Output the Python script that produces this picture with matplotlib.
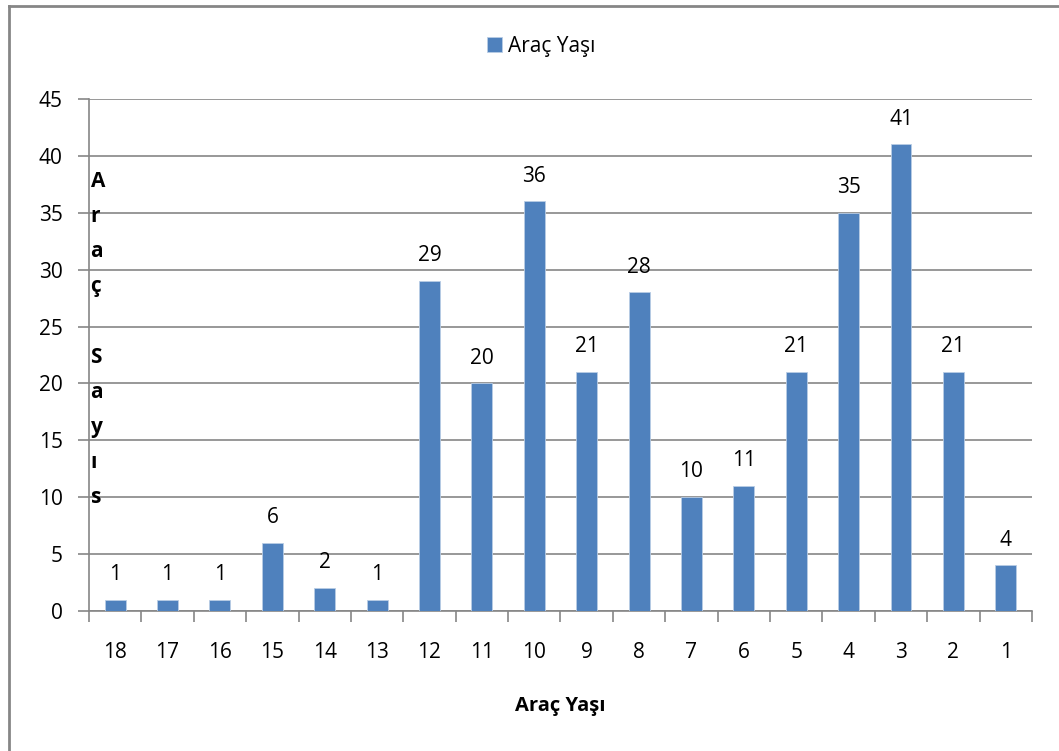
import matplotlib.pyplot as plt
from matplotlib.lines import Line2D
import numpy as np

plt.rcParams['font.family'] = ['Open Sans', 'DejaVu Sans']

ages = ['18', '17', '16', '15', '14', '13', '12', '11', '10', '9',
        '8', '7', '6', '5', '4', '3', '2', '1']
counts = [1, 1, 1, 6, 2, 1, 29, 20, 36, 21, 28, 10, 11, 21, 35, 41, 21, 4]
yticks = [0, 5, 10, 15, 20, 25, 30, 35, 40, 45]

bar_color = '#4F81BD'
axis_gray = '#868686'

fig = plt.figure(figsize=(10.59, 7.51), dpi=100)
ax = fig.add_axes([0.084, 0.1864, 0.8905, 0.6818])

x = np.arange(len(ages))
bars = ax.bar(x, counts, width=0.4, color=bar_color, edgecolor='#B9CDE5',
              linewidth=0.6, label='Araç Yaşı', zorder=3)
for xi, v in zip(x, counts):
    ax.text(xi, v + 1.3, str(v), ha='center', va='bottom', fontsize=15)

ax.set_xlim(-0.5, len(ages) - 0.5)
ax.set_ylim(0, 45)
ax.set_yticks(yticks)
ax.set_yticklabels([str(t) for t in yticks], fontsize=15)
ax.set_xticks(x)
ax.set_xticklabels(ages, fontsize=15)
ax.set_xticks(np.arange(-0.5, len(ages)), minor=True)
ax.tick_params(axis='x', which='major', length=0, pad=22)
ax.tick_params(axis='x', which='minor', length=8, color=axis_gray, width=1.2)
ax.tick_params(axis='y', length=8, color=axis_gray, width=1.2, pad=11)

ax.grid(axis='y', color=axis_gray, linewidth=1.2, zorder=0)
for s in ['top', 'right']:
    ax.spines[s].set_visible(False)
for s in ['left', 'bottom']:
    ax.spines[s].set_color(axis_gray)
    ax.spines[s].set_linewidth(1.2)

ax.set_xlabel('Araç Yaşı', fontsize=14.5, fontweight='bold', labelpad=24)

letters = ['A', 'r', 'a', 'ç', '', 'S', 'a', 'y', 'ı', 's']
fig.text(0.0855, 0.772, '\n'.join(letters), ha='left', va='top',
         fontsize=15, fontweight='bold', linespacing=1.88)

leg = fig.legend(handles=[bars], labels=['Araç Yaşı'], loc='center',
                 bbox_to_anchor=(0.511, 0.938), frameon=False, fontsize=15,
                 handlelength=0.7, handleheight=0.7, handletextpad=0.3)

# outer chart border (left and top only visible)
fig.add_artist(Line2D([0.0085, 0.0085], [0, 0.992], transform=fig.transFigure,
                      color=axis_gray, linewidth=2))
fig.add_artist(Line2D([0.0085, 1.0], [0.992, 0.992], transform=fig.transFigure,
                      color=axis_gray, linewidth=2))

plt.savefig('out.png', dpi=100)
